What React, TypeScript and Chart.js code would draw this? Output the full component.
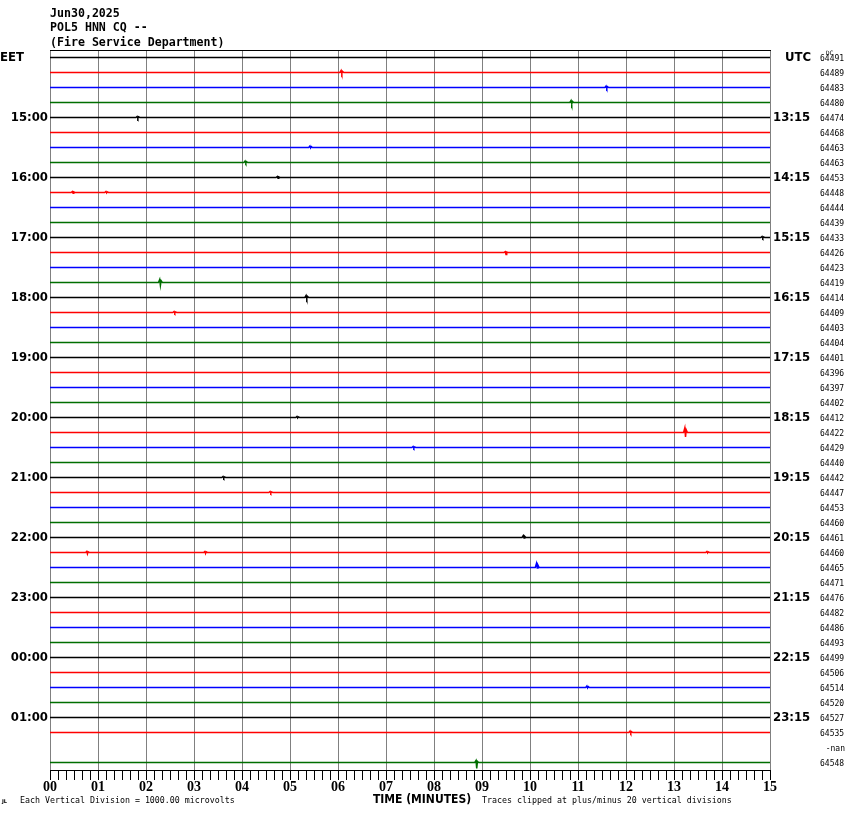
import { useEffect, useRef } from 'react';
import { Chart, registerables } from 'chart.js';

Chart.register(...registerables);

const headerLines = ['Jun30,2025', 'POL5 HNN CQ --', '(Fire Service Department)'];
const minuteLabels = ['00', '01', '02', '03', '04', '05', '06', '07', '08', '09', '10', '11', '12', '13', '14', '15'];
const traceColors = ['#000000', '#ff0000', '#0000ff', '#006e00'];
const localTimeLabels = ['EET', '15:00', '16:00', '17:00', '18:00', '19:00', '20:00', '21:00', '22:00', '23:00', '00:00', '01:00'];
const utcTimeLabels = ['UTC', '13:15', '14:15', '15:15', '16:15', '17:15', '18:15', '19:15', '20:15', '21:15', '22:15', '23:15'];
const dcValues = [
  '64491', '64489', '64483', '64480', '64474', '64468', '64463', '64463',
  '64453', '64448', '64444', '64439', '64433', '64426', '64423', '64419',
  '64414', '64409', '64403', '64404', '64401', '64396', '64397', '64402',
  '64412', '64422', '64429', '64440', '64442', '64447', '64453', '64460',
  '64461', '64460', '64465', '64471', '64476', '64482', '64486', '64493',
  '64499', '64506', '64514', '64520', '64527', '64535', '-nan', '64548',
];
const missingRows = [46];
// [row, minute, upward swing (divisions), downward swing (divisions)]
const traceEvents: [number, number, number, number][] = [
  [1, 6.08, 0.13, 0.07],
  [2, 11.6, 0.1, 0.05],
  [3, 10.87, 0.13, 0.1],
  [4, 1.83, 0.07, 0.05],
  [6, 5.43, 0.1, 0.03],
  [7, 4.08, 0.1, 0.03],
  [8, 4.75, 0.07, 0.05],
  [9, 0.48, 0.07, 0.05],
  [9, 1.18, 0.07, 0.03],
  [12, 14.85, 0.07, 0.03],
  [13, 9.5, 0.05, 0.13],
  [15, 2.3, 0.2, 0.2],
  [16, 5.35, 0.13, 0.07],
  [17, 2.6, 0.07, 0.03],
  [24, 5.16, 0.07, 0.03],
  [25, 13.24, 0.3, 0.3],
  [26, 7.58, 0.07, 0.03],
  [28, 3.62, 0.07, 0.03],
  [29, 4.6, 0.07, 0.03],
  [32, 9.875, 0.13, 0.03],
  [33, 0.78, 0.07, 0.1],
  [33, 3.24, 0.07, 0.07],
  [33, 13.7, 0.07, 0.03],
  [34, 10.15, 0.27, 0.03],
  [42, 11.2, 0.1, 0.03],
  [45, 12.1, 0.1, 0.03],
  [47, 8.89, 0.13, 0.4],
];
const footerLeft = 'Each Vertical Division = 1000.00 microvolts';
const footerRight = 'Traces clipped at plus/minus 20 vertical divisions';
const axisTitle = 'TIME (MINUTES)';

const ROWS = dcValues.length;
const MINUTES = minuteLabels.length - 1;

function buildTrace(row: number) {
  const pts: { x: number; y: number }[] = [{ x: 0, y: row }];
  traceEvents
    .filter((e) => e[0] === row)
    .sort((a, b) => a[1] - b[1])
    .forEach(([, m, up, down]) => {
      pts.push({ x: m - 0.04, y: row });
      pts.push({ x: m - 0.015, y: row - up });
      pts.push({ x: m, y: row + down });
      pts.push({ x: m + 0.015, y: row - up * 0.6 });
      pts.push({ x: m + 0.04, y: row });
    });
  pts.push({ x: MINUTES, y: row });
  return pts;
}

const decorPlugin = {
  id: 'helicorderDecor',
  afterDraw(chart: any) {
    const ctx = chart.ctx as CanvasRenderingContext2D;
    const xs = chart.scales.x;
    const ys = chart.scales.y;
    const { left, right, top, bottom } = chart.chartArea;
    ctx.save();
    ctx.fillStyle = '#000';
    // frame
    ctx.fillRect(left, top, right - left + 1, 1);
    ctx.fillRect(left, bottom, right - left + 1, 1);
    // ticks every 10 s
    for (let i = 0; i <= MINUTES * 6; i++) {
      const x = Math.round(xs.getPixelForValue(i / 6));
      ctx.fillRect(x, bottom, 1, 10);
    }
    // minute labels
    ctx.font = 'bold 14px "Liberation Serif"';
    ctx.textAlign = 'center';
    ctx.textBaseline = 'middle';
    minuteLabels.forEach((lab, i) => {
      ctx.fillText(lab, xs.getPixelForValue(i), 787);
    });
    // axis title
    ctx.font = 'bold 12px "DejaVu Sans Condensed"';
    ctx.fillText(axisTitle, 422, 800);
    // footers
    ctx.font = '8.3px "DejaVu Sans Mono"';
    ctx.textAlign = 'left';
    ctx.fillText(footerLeft, 20, 801);
    ctx.fillText(footerRight, 482, 801);
    ctx.font = 'bold 5px "DejaVu Sans"';
    ctx.fillText('JL', 2, 802);
    // header
    ctx.font = 'bold 11.6px "DejaVu Sans Mono"';
    ctx.textBaseline = 'alphabetic';
    headerLines.forEach((t, i) => ctx.fillText(t, left, 16.5 + i * 14.5));
    // time labels
    ctx.font = 'bold 13px "DejaVu Sans Condensed"';
    ctx.textBaseline = 'middle';
    localTimeLabels.forEach((t, i) => {
      const y = ys.getPixelForValue(i * 4);
      if (i === 0) {
        ctx.textAlign = 'left';
        ctx.fillText(t, 0, y);
      } else {
        ctx.textAlign = 'right';
        ctx.fillText(t, left - 2, y);
      }
    });
    ctx.textAlign = 'left';
    utcTimeLabels.forEach((t, i) => {
      const y = ys.getPixelForValue(i * 4);
      ctx.fillText(t, i === 0 ? right + 15 : right + 3, y);
    });
    // DC values
    ctx.font = '8px "DejaVu Sans Mono"';
    dcValues.forEach((v, r) => {
      const y = ys.getPixelForValue(r);
      ctx.textAlign = v === '-nan' ? 'right' : 'left';
      ctx.fillText(v, v === '-nan' ? 845 : 820, y + 1);
    });
    ctx.textAlign = 'left';
    ctx.font = '6px "DejaVu Sans Mono"';
    ctx.fillText('DC', 826, 53);
    ctx.restore();
  },
};

export default function App() {
  const ref = useRef<HTMLCanvasElement | null>(null);
  useEffect(() => {
    document.body.style.margin = '0';
    const datasets = [] as any[];
    for (let r = 0; r < ROWS; r++) {
      if (missingRows.includes(r)) continue;
      datasets.push({
        data: buildTrace(r),
        borderColor: traceColors[r % 4],
        borderWidth: 1.5,
        pointRadius: 0,
        tension: 0,
        fill: false,
      });
    }
    const chart = new Chart(ref.current as HTMLCanvasElement, {
      type: 'line',
      data: { datasets },
      options: {
        animation: false,
        responsive: false,
        parsing: false,
        layout: { padding: { left: 50, right: 80, top: 50, bottom: 44 } },
        plugins: { legend: { display: false }, tooltip: { enabled: false } },
        scales: {
          x: {
            type: 'linear',
            min: 0,
            max: MINUTES,
            grid: { color: '#808080', lineWidth: 1, drawTicks: false },
            border: { display: false },
            ticks: { display: false, stepSize: 1 },
          },
          y: {
            type: 'linear',
            display: false,
            reverse: true,
            min: -0.5,
            max: ROWS - 0.5,
          },
        },
      },
      plugins: [decorPlugin],
    });
    return () => chart.destroy();
  }, []);
  return (
    <div style={{ position: 'fixed', left: 0, top: 0, width: 850, height: 814, background: '#fff' }}>
      <canvas ref={ref} width={850} height={814} style={{ width: 850, height: 814 }} />
    </div>
  );
}
